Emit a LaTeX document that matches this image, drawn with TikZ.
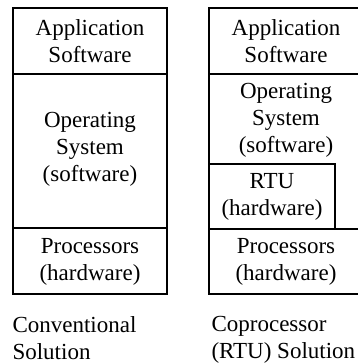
\documentclass[tikz,border=0pt]{standalone}
\usepackage{fontspec}
\setmainfont{Liberation Serif}
\usetikzlibrary{positioning}

\begin{document}
\begin{tikzpicture}[x=1pt,y=-1pt,line width=1.1pt,
  every node/.style={font=\fontsize{23}{27}\selectfont,align=center,inner sep=0pt},
  caption/.style={anchor=north west,align=left}]
  \useasboundingbox (0,0) rectangle (357,363);
  % conventional stack
  \draw (13,8) rectangle (167,294);
  \draw (13,74) -- (167,74);
  \draw (13,228) -- (167,228);
  \node (appL) at (90,41) {Application\\Software};
  \node (osL) at (90,149) {Operating\\System\\(software)};
  \node (procL) at (90,262) {Processors\\(hardware)};
  % coprocessor stack, runs off the right edge
  \draw (209,8) rectangle (363,294);
  \draw (209,74) -- (363,74);
  \draw (209,229) -- (363,229);
  \draw (209,164) rectangle (335,229);
  \node (appR) at (286,41) {Application\\Software};
  \node (osR) at (286,120) {Operating\\System\\(software)};
  \node (rtu) at (272,197) {RTU\\(hardware)};
  \node (procR) at (286,262) {Processors\\(hardware)};
  % captions
  \node[caption] (capL) at (12,316) {Conventional\\Solution};
  \node[caption] (capR) at (211,316) {Coprocessor\\(RTU) Solution};
\end{tikzpicture}
\end{document}
